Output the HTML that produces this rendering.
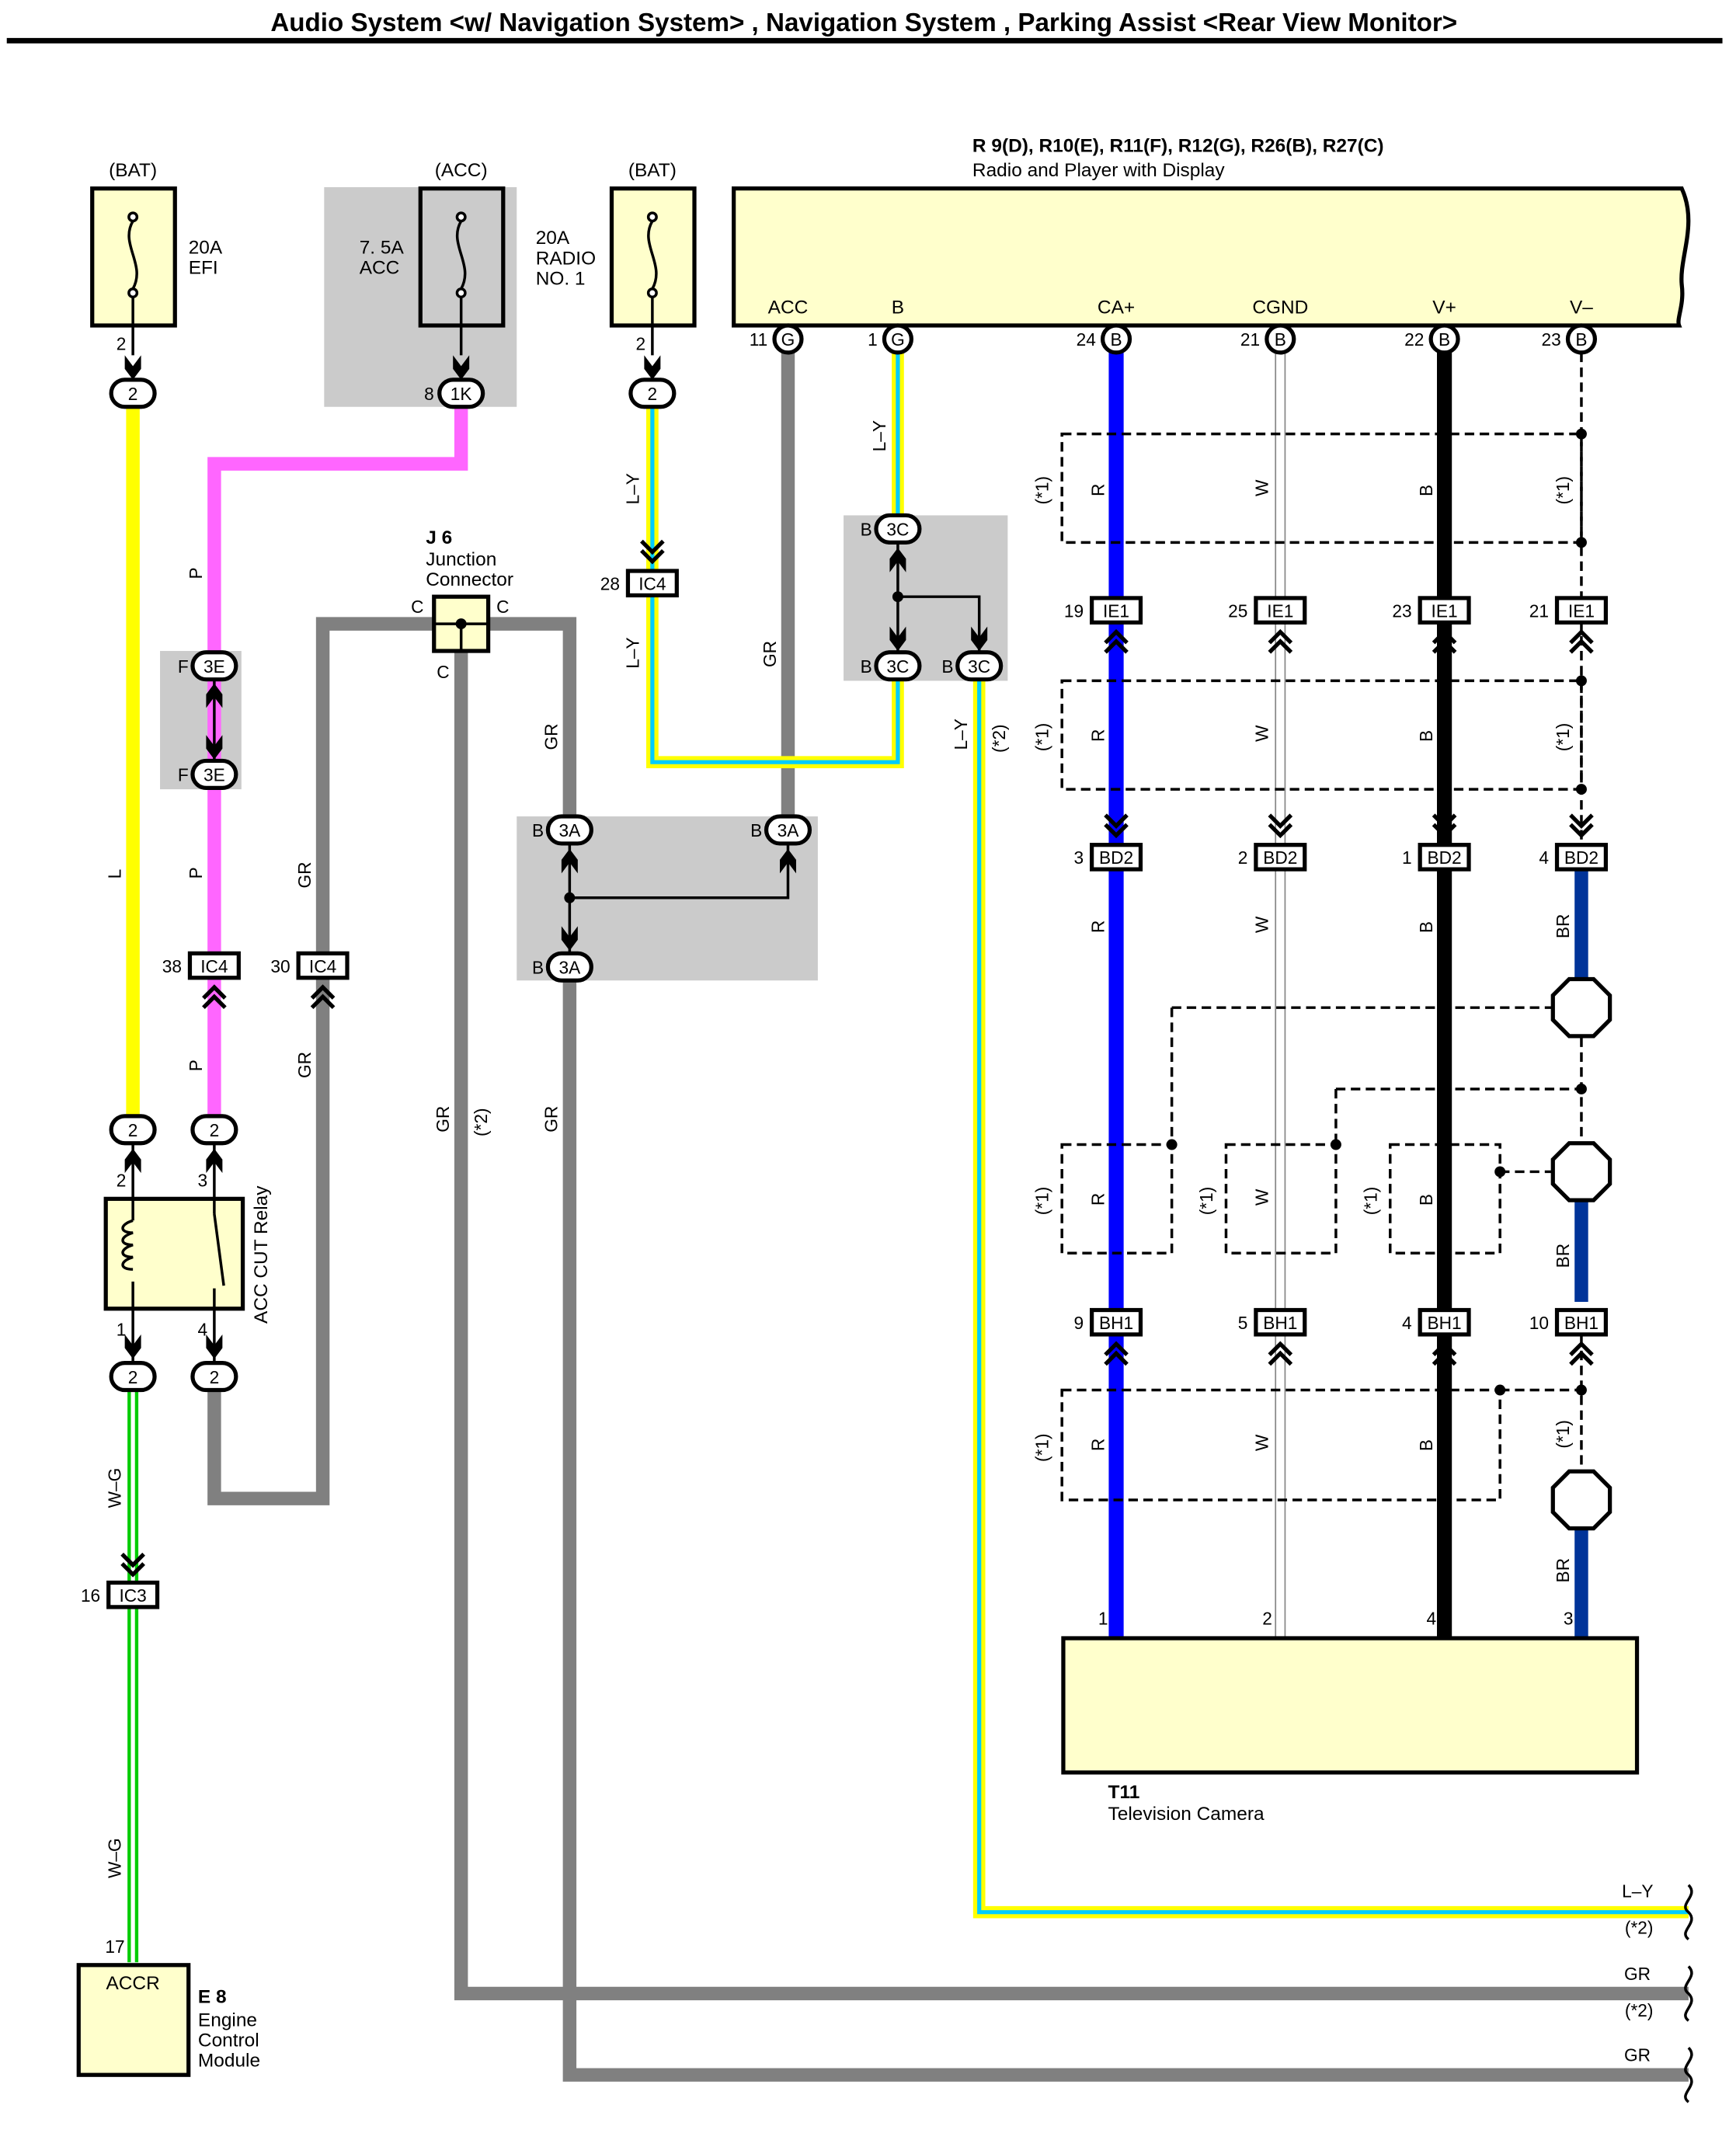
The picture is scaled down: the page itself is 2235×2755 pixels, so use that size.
<!DOCTYPE html>
<html><head><meta charset="utf-8"><style>html,body{margin:0;padding:0;background:#fff}svg{display:block}</style></head>
<body>
<svg width="2235" height="2755" viewBox="0 0 1280 1578" preserveAspectRatio="none" xmlns="http://www.w3.org/2000/svg" font-family="Liberation Sans, sans-serif">
<defs>
<g id="chU"><path d="M-8,4 L0,-4 L8,4 M-8,11 L0,3 L8,11" stroke="#000" stroke-width="3" fill="none"/></g>
<g id="chD"><path d="M-8,-4 L0,4 L8,-4 M-8,-11 L0,-3 L8,-11" stroke="#000" stroke-width="3" fill="none"/></g>
<g id="arD"><path d="M-6,-12 L0,-4 L6,-12 L6,-2 L0,6 L-6,-2 Z" fill="#000"/></g>
<g id="arU"><path d="M-6,12 L0,4 L6,12 L6,2 L0,-6 L-6,2 Z" fill="#000"/></g>
<g id="oct"><polygon points="-9,-21 9,-21 21,-9 21,9 9,21 -9,21 -21,9 -21,-9" fill="#fff" stroke="#000" stroke-width="3"/></g>
</defs>
<rect width="1280" height="1578" fill="#fff"/>
<text x="637" y="23" font-size="19" font-weight="bold" text-anchor="middle" textLength="875" lengthAdjust="spacingAndGlyphs">Audio System &lt;w/ Navigation System&gt; , Navigation System , Parking Assist &lt;Rear View Monitor&gt;</text>
<rect x="5" y="28" width="1265" height="4" fill="#000"/>

<rect x="239" y="138" width="142" height="162" fill="#cbcbcb"/>
<rect x="118" y="480" width="60" height="102" fill="#cbcbcb"/>
<rect x="381" y="602" width="222" height="121" fill="#cbcbcb"/>
<rect x="622" y="380" width="121" height="122" fill="#cbcbcb"/>

<g font-size="14">
<text x="98" y="130" text-anchor="middle">(BAT)</text>
<text x="340" y="130" text-anchor="middle">(ACC)</text>
<text x="481" y="130" text-anchor="middle">(BAT)</text>
<text x="139" y="187">20A</text><text x="139" y="202">EFI</text>
<text x="265" y="187">7. 5A</text><text x="265" y="202">ACC</text>
<text x="395" y="180">20A</text><text x="395" y="195">RADIO</text><text x="395" y="210">NO. 1</text>
</g>
<g fill="#ffffcc" stroke="#000" stroke-width="3">
<rect x="68" y="139" width="61" height="101"/><rect x="310" y="139" width="61" height="101" fill="#cbcbcb"/><rect x="451" y="139" width="61" height="101"/>
</g>
<g stroke="#000" stroke-width="2" fill="none">
<path d="M98,163 C88,180 108,195 98,213 M98,213 L98,262"/><circle cx="98" cy="160" r="3" fill="#fff"/><circle cx="98" cy="216" r="3" fill="#fff"/>
<path d="M340,163 C330,180 350,195 340,213 M340,213 L340,262"/><circle cx="340" cy="160" r="3" fill="#fff"/><circle cx="340" cy="216" r="3" fill="#fff"/>
<path d="M481,163 C471,180 491,195 481,213 M481,213 L481,262"/><circle cx="481" cy="160" r="3" fill="#fff"/><circle cx="481" cy="216" r="3" fill="#fff"/>
</g>
<use href="#arD" x="98" y="274"/><use href="#arD" x="340" y="274"/><use href="#arD" x="481" y="274"/>

<path d="M541,139 L1240,139 C1252,165 1238,190 1240,210 C1242,225 1236,235 1238,240 L541,240 Z" fill="#ffffcc" stroke="#000" stroke-width="3"/>
<text x="717" y="112" font-size="14" font-weight="bold">R 9(D), R10(E), R11(F), R12(G), R26(B), R27(C)</text>
<text x="717" y="130" font-size="14">Radio and Player with Display</text>
<g font-size="14" text-anchor="middle">
<text x="581" y="231">ACC</text><text x="662" y="231">B</text><text x="823" y="231">CA+</text><text x="944" y="231">CGND</text><text x="1065" y="231">V+</text><text x="1166" y="231">V–</text>
</g>

<g fill="none" stroke-linejoin="miter">
<path d="M98,300 V823" stroke="#ffff00" stroke-width="10"/>
<path d="M340,300 V342 H158 V823" stroke="#ff66ff" stroke-width="10"/>
<path d="M158,1025 V1105 H238 V460 H420 V602" stroke="#808080" stroke-width="10"/>
<path d="M420,723 V1530 H1245" stroke="#808080" stroke-width="10"/>
<path d="M340,470 V1470 H1245" stroke="#808080" stroke-width="10"/>
<path d="M581,260 V602" stroke="#808080" stroke-width="10"/>
<path d="M481,300 V420 M481,440 V562 H662 V502" stroke="#ffff00" stroke-width="9"/>
<path d="M481,300 V420 M481,440 V562 H662 V502" stroke="#00ccff" stroke-width="3"/>
<path d="M662,260 V380" stroke="#ffff00" stroke-width="9"/><path d="M662,260 V380" stroke="#00ccff" stroke-width="3"/>
<path d="M722,502 V1410 H1245" stroke="#ffff00" stroke-width="9"/><path d="M722,502 V1410 H1245" stroke="#00ccff" stroke-width="3"/>
<path d="M98,1025 V1447" stroke="#00cc00" stroke-width="8"/><path d="M98,1025 V1447" stroke="#fff" stroke-width="3"/>
<path d="M823,260 V1207" stroke="#0000ff" stroke-width="11"/>
<path d="M944,260 V1207" stroke="#888" stroke-width="8"/><path d="M944,260 V1207" stroke="#fff" stroke-width="6"/>
<path d="M1065,260 V1207" stroke="#000" stroke-width="11"/>
<path d="M1166,640 V722 M1166,885 V960 M1166,1127 V1207" stroke="#003399" stroke-width="10"/>
</g>
<g fill="none" stroke="#000" stroke-width="2" stroke-dasharray="7,4">
<path d="M1166,260 V620"/>
<rect x="783" y="320" width="383" height="80"/>
<rect x="783" y="502" width="383" height="80"/>
<path d="M1166,765 V843 M1166,985 V1084"/>
<path d="M864,743 H1145 M864,743 V844"/>
<path d="M985,803 H1166 M985,803 V844"/>
<path d="M1106,864 H1145"/>
<rect x="783" y="844" width="81" height="80"/><rect x="904" y="844" width="81" height="80"/><rect x="1025" y="844" width="81" height="80"/>
<rect x="783" y="1025" width="323" height="81"/><path d="M1106,1025 H1166"/>
</g>
<g fill="#000"><circle cx="1166" cy="320" r="4"/><circle cx="1166" cy="400" r="4"/><circle cx="1166" cy="502" r="4"/><circle cx="1166" cy="582" r="4"/><circle cx="864" cy="844" r="4"/><circle cx="985" cy="844" r="4"/><circle cx="1166" cy="803" r="4"/><circle cx="1106" cy="864" r="4"/><circle cx="1106" cy="1025" r="4"/><circle cx="1166" cy="1025" r="4"/></g>
<use href="#oct" x="1166" y="743"/><use href="#oct" x="1166" y="864"/><use href="#oct" x="1166" y="1106"/>

<g stroke="#000" stroke-width="2" fill="none">
<path d="M158,500 V562"/><path d="M420,622 V703 M420,662 H581 V622"/><path d="M662,400 V481 M662,440 H722 V481"/>
</g>
<circle cx="420" cy="662" r="4"/><circle cx="662" cy="440" r="4"/>
<use href="#arU" x="158" y="510"/><use href="#arD" x="158" y="554"/>
<use href="#arU" x="420" y="632"/><use href="#arU" x="581" y="632"/><use href="#arD" x="420" y="695"/>
<use href="#arU" x="662" y="410"/><use href="#arD" x="662" y="474"/><use href="#arD" x="722" y="474"/>

<g stroke="#000" stroke-width="3" fill="#fff"><circle cx="581" cy="250" r="10"/><circle cx="662" cy="250" r="10"/><circle cx="823" cy="250" r="10"/><circle cx="944" cy="250" r="10"/><circle cx="1065" cy="250" r="10"/><circle cx="1166" cy="250" r="10"/></g>
<g font-size="13" text-anchor="middle"><text x="581" y="255">G</text><text x="662" y="255">G</text><text x="823" y="255">B</text><text x="944" y="255">B</text><text x="1065" y="255">B</text><text x="1166" y="255">B</text></g>
<g font-size="13" text-anchor="end"><text x="566" y="255">11</text><text x="647" y="255">1</text><text x="808" y="255">24</text><text x="929" y="255">21</text><text x="1050" y="255">22</text><text x="1151" y="255">23</text></g>

<g stroke="#000" stroke-width="3" fill="#fff">
<rect x="82" y="280" width="32" height="20" rx="10"/><rect x="324" y="280" width="32" height="20" rx="10"/><rect x="465" y="280" width="32" height="20" rx="10"/>
<rect x="142" y="481" width="32" height="20" rx="10"/><rect x="142" y="561" width="32" height="20" rx="10"/>
<rect x="404" y="602" width="32" height="20" rx="10"/><rect x="565" y="602" width="32" height="20" rx="10"/><rect x="404" y="703" width="32" height="20" rx="10"/>
<rect x="646" y="380" width="32" height="20" rx="10"/><rect x="646" y="481" width="32" height="20" rx="10"/><rect x="706" y="481" width="32" height="20" rx="10"/>
<rect x="82" y="823" width="32" height="20" rx="10"/><rect x="142" y="823" width="32" height="20" rx="10"/><rect x="82" y="1005" width="32" height="20" rx="10"/><rect x="142" y="1005" width="32" height="20" rx="10"/>
</g>
<g font-size="13" text-anchor="middle">
<text x="98" y="295">2</text><text x="340" y="295">1K</text><text x="481" y="295">2</text>
<text x="158" y="496">3E</text><text x="158" y="576">3E</text>
<text x="420" y="617">3A</text><text x="581" y="617">3A</text><text x="420" y="718">3A</text>
<text x="662" y="395">3C</text><text x="662" y="496">3C</text><text x="722" y="496">3C</text>
<text x="98" y="838">2</text><text x="158" y="838">2</text><text x="98" y="1020">2</text><text x="158" y="1020">2</text>
</g>
<g font-size="13" text-anchor="end">
<text x="320" y="295">8</text><text x="93" y="258">2</text><text x="476" y="258">2</text>
<text x="139" y="496">F</text><text x="139" y="576">F</text>
<text x="401" y="617">B</text><text x="562" y="617">B</text><text x="401" y="718">B</text>
<text x="643" y="395">B</text><text x="643" y="496">B</text><text x="703" y="496">B</text>
<text x="93" y="875">2</text><text x="153" y="875">3</text><text x="93" y="985">1</text><text x="153" y="985">4</text>
</g>
<use href="#arU" x="98" y="853"/><use href="#arU" x="158" y="853"/><use href="#arD" x="98" y="996"/><use href="#arD" x="158" y="996"/>

<g stroke="#000" stroke-width="3" fill="#fff">
<rect x="140" y="703" width="36" height="18"/><rect x="220" y="703" width="36" height="18"/><rect x="463" y="421" width="36" height="18"/><rect x="80" y="1167" width="36" height="18"/>
<rect x="805" y="441" width="36" height="18"/><rect x="926" y="441" width="36" height="18"/><rect x="1047" y="441" width="36" height="18"/><rect x="1148" y="441" width="36" height="18"/>
<rect x="805" y="623" width="36" height="18"/><rect x="926" y="623" width="36" height="18"/><rect x="1047" y="623" width="36" height="18"/><rect x="1148" y="623" width="36" height="18"/>
<rect x="805" y="966" width="36" height="18"/><rect x="926" y="966" width="36" height="18"/><rect x="1047" y="966" width="36" height="18"/><rect x="1148" y="966" width="36" height="18"/>
</g>
<g font-size="13" text-anchor="middle">
<text x="158" y="717">IC4</text><text x="238" y="717">IC4</text><text x="481" y="435">IC4</text><text x="98" y="1181">IC3</text>
<text x="823" y="455">IE1</text><text x="944" y="455">IE1</text><text x="1065" y="455">IE1</text><text x="1166" y="455">IE1</text>
<text x="823" y="637">BD2</text><text x="944" y="637">BD2</text><text x="1065" y="637">BD2</text><text x="1166" y="637">BD2</text>
<text x="823" y="980">BH1</text><text x="944" y="980">BH1</text><text x="1065" y="980">BH1</text><text x="1166" y="980">BH1</text>
</g>
<g font-size="13" text-anchor="end">
<text x="134" y="717">38</text><text x="214" y="717">30</text><text x="457" y="435">28</text><text x="74" y="1181">16</text>
<text x="799" y="455">19</text><text x="920" y="455">25</text><text x="1041" y="455">23</text><text x="1142" y="455">21</text>
<text x="799" y="637">3</text><text x="920" y="637">2</text><text x="1041" y="637">1</text><text x="1142" y="637">4</text>
<text x="799" y="980">9</text><text x="920" y="980">5</text><text x="1041" y="980">4</text><text x="1142" y="980">10</text>
</g>
<use href="#chU" x="158" y="732"/><use href="#chU" x="238" y="732"/><use href="#chD" x="481" y="410"/><use href="#chD" x="98" y="1157"/>
<use href="#chU" x="823" y="470"/><use href="#chU" x="944" y="470"/><use href="#chU" x="1065" y="470"/><use href="#chU" x="1166" y="470"/>
<use href="#chD" x="823" y="612"/><use href="#chD" x="944" y="612"/><use href="#chD" x="1065" y="612"/><use href="#chD" x="1166" y="612"/>
<use href="#chU" x="823" y="995"/><use href="#chU" x="944" y="995"/><use href="#chU" x="1065" y="995"/><use href="#chU" x="1166" y="995"/>

<rect x="320" y="440" width="40" height="40" fill="#ffffcc" stroke="#000" stroke-width="3"/>
<path d="M320,460 H360 M340,460 V480" stroke="#000" stroke-width="2"/><circle cx="340" cy="460" r="4"/>
<text x="314" y="401" font-size="14" font-weight="bold">J 6</text>
<text x="314" y="417" font-size="14">Junction</text><text x="314" y="432" font-size="14">Connector</text>
<g font-size="13"><text x="303" y="452">C</text><text x="366" y="452">C</text><text x="322" y="500">C</text></g>

<rect x="78" y="884" width="101" height="81" fill="#ffffcc" stroke="#000" stroke-width="3"/>
<path d="M98,843 V900 M98,945 V1005 M158,843 V895 M158,950 V1005" stroke="#000" stroke-width="2"/>
<path d="M98,900 c-10,3 -10,9 0,9 c-10,3 -10,9 0,9 c-10,3 -10,9 0,9 c-10,3 -10,9 0,9 " stroke="#000" stroke-width="2" fill="none"/>
<path d="M158,895 L165,948" stroke="#000" stroke-width="2"/>
<text transform="translate(197,976) rotate(-90)" font-size="14">ACC CUT Relay</text>

<rect x="58" y="1449" width="81" height="81" fill="#ffffcc" stroke="#000" stroke-width="3"/>
<text x="98" y="1467" font-size="14" text-anchor="middle">ACCR</text>
<text x="92" y="1440" font-size="13" text-anchor="end">17</text>
<text x="146" y="1477" font-size="14" font-weight="bold">E 8</text>
<text x="146" y="1494" font-size="14">Engine</text><text x="146" y="1509" font-size="14">Control</text><text x="146" y="1524" font-size="14">Module</text>

<rect x="784" y="1208" width="423" height="99" fill="#ffffcc" stroke="#000" stroke-width="3"/>
<text x="817" y="1326" font-size="14" font-weight="bold">T11</text>
<text x="817" y="1342" font-size="14">Television Camera</text>
<g font-size="13" text-anchor="end"><text x="817" y="1198">1</text><text x="938" y="1198">2</text><text x="1059" y="1198">4</text><text x="1160" y="1198">3</text></g>

<g stroke="#000" stroke-width="2" fill="none">
<path d="M1245,1390 c8,8 -8,14 0,20 c8,8 -8,14 0,20"/><path d="M1245,1450 c8,8 -8,14 0,20 c8,8 -8,14 0,20"/><path d="M1245,1510 c8,8 -8,14 0,20 c8,8 -8,14 0,20"/>
</g>
<g font-size="13" text-anchor="end"><text x="1219" y="1399">L–Y</text><text x="1219" y="1426">(*2)</text><text x="1217" y="1460">GR</text><text x="1219" y="1487">(*2)</text><text x="1217" y="1520">GR</text></g>

<g font-size="13">
<text transform="translate(89,648) rotate(-90)">L</text>
<text transform="translate(149,427) rotate(-90)">P</text>
<text transform="translate(149,648) rotate(-90)">P</text>
<text transform="translate(149,790) rotate(-90)">P</text>
<text transform="translate(229,655) rotate(-90)">GR</text>
<text transform="translate(229,795) rotate(-90)">GR</text>
<text transform="translate(331,835) rotate(-90)">GR</text>
<text transform="translate(359,838) rotate(-90)">(*2)</text>
<text transform="translate(411,553) rotate(-90)">GR</text>
<text transform="translate(411,835) rotate(-90)">GR</text>
<text transform="translate(572,492) rotate(-90)">GR</text>
<text transform="translate(471,372) rotate(-90)">L–Y</text>
<text transform="translate(471,493) rotate(-90)">L–Y</text>
<text transform="translate(653,333) rotate(-90)">L–Y</text>
<text transform="translate(713,553) rotate(-90)">L–Y</text>
<text transform="translate(741,555) rotate(-90)">(*2)</text>
<text transform="translate(89,1112) rotate(-90)">W–G</text>
<text transform="translate(89,1385) rotate(-90)">W–G</text>
<g><text transform="translate(814,366) rotate(-90)">R</text><text transform="translate(935,366) rotate(-90)">W</text><text transform="translate(1056,366) rotate(-90)">B</text>
<text transform="translate(814,547) rotate(-90)">R</text><text transform="translate(935,547) rotate(-90)">W</text><text transform="translate(1056,547) rotate(-90)">B</text>
<text transform="translate(814,688) rotate(-90)">R</text><text transform="translate(935,688) rotate(-90)">W</text><text transform="translate(1056,688) rotate(-90)">B</text><text transform="translate(1157,692) rotate(-90)">BR</text>
<text transform="translate(814,889) rotate(-90)">R</text><text transform="translate(935,889) rotate(-90)">W</text><text transform="translate(1056,889) rotate(-90)">B</text><text transform="translate(1157,935) rotate(-90)">BR</text>
<text transform="translate(814,1070) rotate(-90)">R</text><text transform="translate(935,1070) rotate(-90)">W</text><text transform="translate(1056,1070) rotate(-90)">B</text><text transform="translate(1157,1167) rotate(-90)">BR</text>
<text transform="translate(773,372) rotate(-90)">(*1)</text><text transform="translate(1157,372) rotate(-90)">(*1)</text>
<text transform="translate(773,554) rotate(-90)">(*1)</text><text transform="translate(1157,554) rotate(-90)">(*1)</text>
<text transform="translate(773,896) rotate(-90)">(*1)</text><text transform="translate(894,896) rotate(-90)">(*1)</text><text transform="translate(1015,896) rotate(-90)">(*1)</text>
<text transform="translate(773,1078) rotate(-90)">(*1)</text><text transform="translate(1157,1068) rotate(-90)">(*1)</text></g>
</g>
</svg>
</body></html>
